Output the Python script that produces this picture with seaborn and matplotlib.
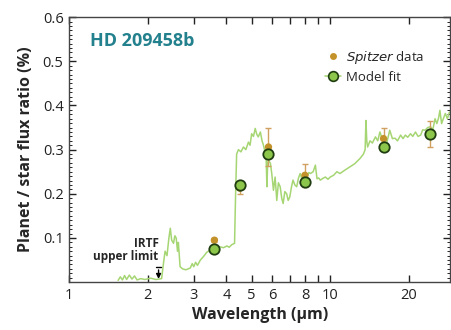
import numpy as np
import pandas as pd
import matplotlib
matplotlib.use("Agg")
import matplotlib.pyplot as plt
from matplotlib.ticker import FixedLocator, NullFormatter, MultipleLocator, FixedFormatter
from matplotlib.lines import Line2D
import seaborn as sns

# ---- data ----
model_wl = [1.54, 1.57, 1.60, 1.63, 1.66, 1.70, 1.74, 1.78, 1.82, 1.88, 1.95, 2.05, 2.15, 2.26,
            2.30, 2.33, 2.37, 2.41, 2.44, 2.47, 2.51, 2.54, 2.57, 2.60, 2.62, 2.66, 2.72, 2.80,
            2.91, 2.96, 3.00, 3.05, 3.10, 3.18, 3.27, 3.37, 3.47, 3.57, 3.68, 3.79, 3.90, 4.02,
            4.10, 4.20, 4.30, 4.34, 4.38, 4.45, 4.55, 4.65, 4.75, 4.86, 4.93, 5.0, 5.08, 5.16,
            5.23, 5.3, 5.4, 5.48, 5.55, 5.62, 5.68, 5.72, 5.76, 5.8, 5.9, 5.97, 6.06, 6.15, 6.24,
            6.33, 6.43, 6.52, 6.6, 6.7, 6.81, 6.9, 7.0, 7.1, 7.2, 7.32, 7.44, 7.55, 7.67, 7.8,
            7.9, 8.02, 8.15, 8.28, 8.4, 8.6, 8.77, 8.9, 9.03, 9.16, 9.37, 9.58, 9.8, 10.0, 10.3,
            10.6, 10.9, 11.4, 11.9, 12.4, 13.0, 13.4, 13.6, 13.7, 13.8, 13.9, 14.2, 14.5, 14.9,
            15.2, 15.5, 15.8, 16.2, 16.5, 16.9, 17.3, 17.7, 18.1, 18.6, 19.0, 19.4, 19.8, 20.3,
            20.7, 21.2, 21.7, 22.2, 22.6, 23.1, 23.6, 24.2, 24.7, 25.2, 25.6, 26.0, 26.3, 26.7,
            27.1, 27.6, 28.1, 28.6]
model_flux = [0.004, 0.012, 0.005, 0.015, 0.006, 0.016, 0.007, 0.014, 0.005, 0.008, 0.006, 0.009,
              0.006, 0.008, 0.045, 0.07, 0.06, 0.10, 0.122, 0.095, 0.088, 0.105, 0.10, 0.07, 0.09,
              0.035, 0.03, 0.028, 0.032, 0.042, 0.035, 0.045, 0.038, 0.05, 0.058, 0.068, 0.072,
              0.077, 0.076, 0.08, 0.078, 0.082, 0.079, 0.085, 0.088, 0.20, 0.29, 0.30, 0.295,
              0.306, 0.30, 0.317, 0.31, 0.336, 0.33, 0.348, 0.335, 0.329, 0.34, 0.32, 0.31, 0.295,
              0.283, 0.216, 0.27, 0.276, 0.269, 0.246, 0.208, 0.238, 0.185, 0.225, 0.216, 0.19,
              0.178, 0.205, 0.2, 0.185, 0.193, 0.215, 0.231, 0.22, 0.216, 0.235, 0.246, 0.232,
              0.231, 0.24, 0.238, 0.248, 0.246, 0.25, 0.265, 0.234, 0.236, 0.231, 0.235, 0.238,
              0.233, 0.238, 0.242, 0.25, 0.246, 0.254, 0.261, 0.268, 0.28, 0.29, 0.30, 0.366,
              0.32, 0.306, 0.32, 0.315, 0.329, 0.32, 0.34, 0.325, 0.329, 0.318, 0.344, 0.325,
              0.326, 0.32, 0.333, 0.325, 0.333, 0.328, 0.336, 0.33, 0.34, 0.33, 0.333, 0.345,
              0.344, 0.35, 0.352, 0.345, 0.37, 0.359, 0.372, 0.389, 0.359, 0.37, 0.382, 0.37,
              0.385]

band_wl = [3.6, 4.5, 5.8, 8.0, 16.0, 24.0]
spitzer_flux = [0.095, 0.213, 0.306, 0.242, 0.325, 0.336]
spitzer_err = [0.005, 0.013, 0.043, 0.026, 0.023, 0.030]
fit_flux = [0.074, 0.221, 0.291, 0.227, 0.306, 0.336]

irtf_wl = [2.2]
irtf_limit = [0.034]

x_ticks = [1, 2, 3, 4, 5, 6, 7, 8, 9, 10, 20]
x_labels = ["1", "2", "3", "4", "5", "6", "", "8", "", "10", "20"]
y_ticks = [0.1, 0.2, 0.3, 0.4, 0.5, 0.6]

# ---- style ----
sns.set_style("ticks")
plt.rcParams["font.family"] = ["Open Sans", "DejaVu Sans"]

line_col = "#a6d673"
fit_face = "#8cc64a"
fit_edge = "#1f3d10"
gold = "#c4922a"
err_col = "#d0a060"
teal = "#23808d"

fig = plt.figure(figsize=(4.52, 3.30), dpi=100)
ax = fig.add_axes([0.153, 0.145, 0.843, 0.803])

model_df = pd.DataFrame({"wl": model_wl, "flux": model_flux})
sns.lineplot(data=model_df, x="wl", y="flux", ax=ax, color=line_col, lw=1.1,
             estimator=None, sort=False, zorder=2)

ax.errorbar(band_wl, spitzer_flux, yerr=spitzer_err, fmt="none", ecolor=err_col,
            elinewidth=1.0, capsize=2.5, capthick=1.0, zorder=3)
sns.scatterplot(x=band_wl, y=spitzer_flux, ax=ax, color=gold, s=28, edgecolor="none",
                zorder=4)
sns.scatterplot(x=band_wl, y=fit_flux, ax=ax, color=fit_face, s=56, edgecolor=fit_edge,
                linewidth=1.3, zorder=5)

# IRTF upper limit
ax.annotate("", xy=(irtf_wl[0], 0.001), xytext=(irtf_wl[0], irtf_limit[0]),
            arrowprops=dict(arrowstyle="-|>", color="black", lw=1.0, mutation_scale=7),
            zorder=6)
ax.plot([irtf_wl[0] * 0.975, irtf_wl[0] * 1.025], [irtf_limit[0]] * 2, color="black", lw=1.0)
ax.text(2.2, 0.043, "IRTF\nupper limit", ha="right", va="bottom", fontsize=8.5,
        fontweight="bold", linespacing=1.0)

ax.text(1.2, 0.545, "HD 209458b", color=teal, fontsize=13, fontweight="bold",
        ha="left", va="center")

ax.set_xscale("log")
ax.set_xlim(1, 28.8)
ax.set_ylim(0, 0.6)
ax.xaxis.set_major_locator(FixedLocator(x_ticks))
ax.xaxis.set_major_formatter(FixedFormatter(x_labels))
ax.xaxis.set_minor_locator(FixedLocator([]))
ax.xaxis.set_minor_formatter(NullFormatter())
ax.yaxis.set_major_locator(FixedLocator(y_ticks))
ax.yaxis.set_major_formatter(FixedFormatter([f"{v:.1f}" for v in y_ticks]))
ax.yaxis.set_minor_locator(MultipleLocator(0.01))

ax.tick_params(axis="both", which="major", direction="in", length=5, width=1.0,
               top=True, right=True, labelsize=10.5, pad=4, colors="#222222")
ax.tick_params(axis="y", which="minor", direction="in", length=2.5, width=0.7,
               left=True, right=True)
for sp in ax.spines.values():
    sp.set_linewidth(1.0)
    sp.set_color("#444444")

ax.set_xlabel("Wavelength (µm)", fontsize=11.5, fontweight="bold", labelpad=3)
ax.set_ylabel("Planet / star flux ratio (%)", fontsize=11.5, fontweight="bold", labelpad=6)

handles = [
    Line2D([], [], marker="o", color=gold, ls="none", markersize=5, markeredgecolor="none"),
    Line2D([], [], marker="o", color=line_col, ls="-", lw=1.1, markersize=7,
           markerfacecolor=fit_face, markeredgecolor=fit_edge, markeredgewidth=1.2),
]
leg = ax.legend(handles, ["$\\it{Spitzer}$ data", "Model fit"], loc="upper left",
                bbox_to_anchor=(0.655, 0.905), frameon=False, fontsize=9.5,
                handlelength=1.2, handletextpad=0.4, labelspacing=0.35, borderpad=0)

fig.savefig("out.png", dpi=100)
